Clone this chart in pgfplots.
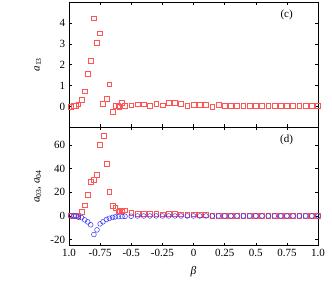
\documentclass[border=0pt]{standalone}
\usepackage{fontspec}
\setmainfont{Liberation Serif}
\usepackage{pgfplots}
\pgfplotsset{compat=1.18}
\definecolor{sqred}{RGB}{255,85,85}
\definecolor{cblue}{RGB}{50,50,255}
\begin{document}
\fontsize{11}{12}\selectfont
\begin{tikzpicture}
\pgfplotsset{
  every axis/.append style={
    scale only axis, width=249pt,
    xmin=-1, xmax=1,
    xtick={-1,-0.75,-0.5,-0.25,0,0.25,0.5,0.75,1},
    tick align=inside, major tick length=3pt,
    tick style={black, line width=0.5pt},
    axis line style={black, line width=0.6pt},
    /pgf/number format/assume math mode=true,
    ticklabel style={font=\fontsize{11}{12}\selectfont},
    label style={font=\fontsize{11.5}{13}\selectfont},
    every axis y label/.style={at={(axis description cs:-0.125,0.5)}, rotate=90, anchor=center},
    clip=false,
  },
  sq/.style={only marks, mark=square, mark size=2.4pt, color=sqred, mark options={line width=0.5pt}},
  ci/.style={only marks, mark=o, mark size=2.4pt, color=cblue, mark options={line width=0.5pt}},
}
\path[use as bounding box] (0pt,0pt) rectangle (332pt,281pt);
% top panel (c)
\begin{axis}[at={(69pt,153.7pt)}, anchor=south west, height=125.3pt,
  ymin=-1, ymax=5, ytick={0,1,2,3,4},
  xticklabels={},
  ylabel={\textit{a}\textsubscript{13}}]
\addplot[sq] coordinates {
(-0.984,0.0) (-0.96,0.03) (-0.944,0.05) (-0.925,0.1) (-0.90,0.3) (-0.874,0.73)
(-0.85,1.57) (-0.826,2.19) (-0.80,4.22) (-0.775,3.06) (-0.75,3.5) (-0.727,0.13)
(-0.697,0.37) (-0.676,1.06) (-0.65,-0.27) (-0.628,0.05) (-0.604,0.05) (-0.596,0.0)
(-0.574,0.19) (-0.55,0.02) (-0.50,0.06) (-0.45,0.1) (-0.40,0.1) (-0.35,0.03)
(-0.30,0.13) (-0.25,0.06) (-0.20,0.16) (-0.15,0.16) (-0.10,0.11) (-0.05,0.03)
(0.0,0.08) (0.05,0.08) (0.10,0.08) (0.15,-0.01) (0.20,0.08) (0.25,0.03)
(0.30,0.04) (0.35,0.03) (0.40,0.04) (0.45,0.03) (0.50,0.03) (0.55,0.04)
(0.60,0.03) (0.65,0.03) (0.70,0.03) (0.75,0.03) (0.80,0.03) (0.85,0.03)
(0.90,0.03) (0.95,0.03) (1.0,0.03)
};
\node[font=\fontsize{11}{12}\selectfont] at (rel axis cs:0.874,0.896) {(c)};
\end{axis}
% bottom panel (d)
\begin{axis}[at={(69pt,35.5pt)}, anchor=south west, height=118.2pt,
  ymin=-25, ymax=75, ytick={-20,0,20,40,60},
  xticklabels={1.0,-0.75,-0.5,-0.25,0,0.25,0.5,0.75,1.0},
  xlabel={\textit{β}},
  xlabel style={at={(axis description cs:0.5,0)}, anchor=center, yshift=-26.5pt},
  ylabel={\textit{a}\textsubscript{03}, \textit{a}\textsubscript{04}}]
\addplot[sq] coordinates {
(-0.984,0.6) (-0.96,0.3) (-0.944,0.3) (-0.925,0.5) (-0.90,3.4) (-0.874,9)
(-0.85,18.2) (-0.826,28.9) (-0.80,30.5) (-0.775,34.8) (-0.75,60.3) (-0.72,67.8)
(-0.697,44.5) (-0.676,20.2) (-0.65,8.7) (-0.628,6.7) (-0.604,3.9) (-0.596,4.2)
(-0.574,3.9) (-0.55,4.8) (-0.50,2.8) (-0.45,2.2) (-0.40,2.2) (-0.35,1.9)
(-0.30,1.7) (-0.25,1.4) (-0.20,1.6) (-0.15,1.8) (-0.10,1.5) (-0.05,1.2)
(0.0,1.5) (0.05,1.2) (0.10,0.8) (0.15,0.3) (0.20,0.1) (0.25,0) (0.30,0)
(0.35,0) (0.40,0) (0.45,0) (0.50,0) (0.55,0) (0.60,0) (0.65,0) (0.70,0)
(0.75,0) (0.80,0) (0.85,0) (0.90,0) (0.95,0) (1.0,0)
};
\addplot[ci] coordinates {
(-0.984,0) (-0.96,0) (-0.944,0) (-0.925,-1.0) (-0.90,-1.4) (-0.874,-3.3)
(-0.85,-5) (-0.826,-7.5) (-0.80,-15.7) (-0.775,-11.8) (-0.75,-6.7) (-0.727,-5)
(-0.70,-3) (-0.676,-2) (-0.65,-1.2) (-0.628,-0.8) (-0.604,-0.6) (-0.574,-0.5)
(-0.55,-0.3) (-0.50,-0.2) (-0.45,0) (-0.40,0) (-0.35,0) (-0.30,0) (-0.25,0)
(-0.20,0) (-0.15,0) (-0.10,0) (-0.05,0) (0.0,0) (0.05,0) (0.10,0) (0.15,0)
(0.20,0) (0.25,0) (0.30,0) (0.35,0) (0.40,0) (0.45,0) (0.50,0) (0.55,0)
(0.60,0) (0.65,0) (0.70,0) (0.75,0) (0.80,0) (0.85,0) (0.90,0) (0.95,0) (1.0,0)
};
\node[font=\fontsize{11}{12}\selectfont] at (rel axis cs:0.874,0.898) {(d)};
\end{axis}
\end{tikzpicture}
\end{document}
